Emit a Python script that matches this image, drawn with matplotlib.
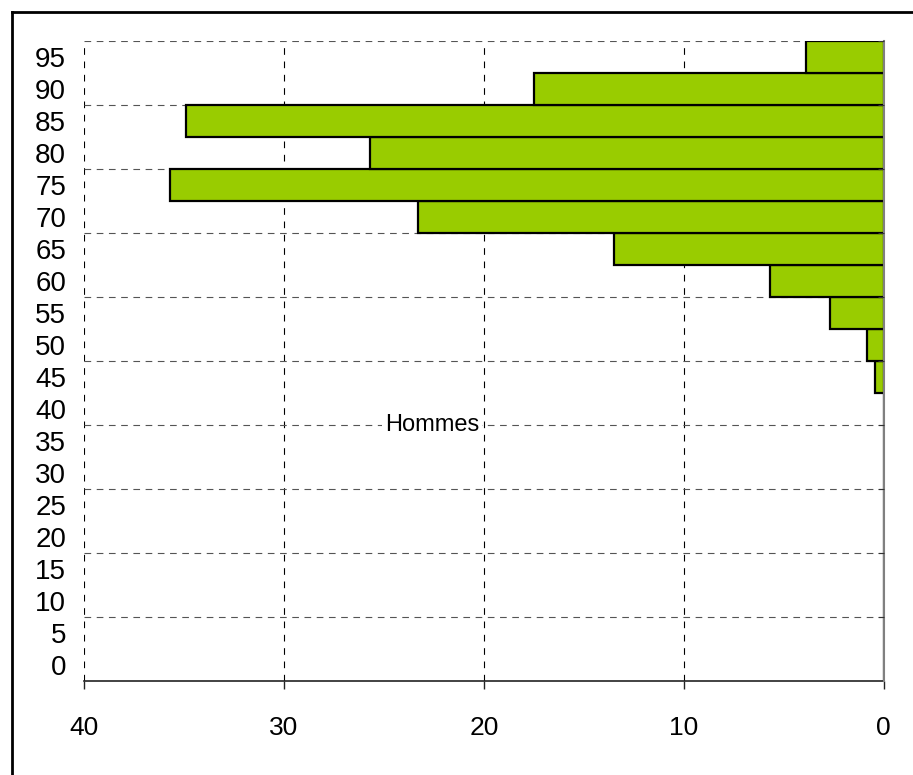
import matplotlib
matplotlib.use("Agg")
import matplotlib.pyplot as plt
from matplotlib.lines import Line2D

# age groups (bottom to top) and values
ages = [0, 5, 10, 15, 20, 25, 30, 35, 40, 45, 50, 55, 60, 65, 70, 75, 80, 85, 90, 95]
hommes = [0, 0, 0, 0, 0, 0, 0, 0, 0, 0.45, 0.85, 2.7, 5.7, 13.5, 23.3, 35.7, 25.7, 34.9, 17.5, 3.9]
x_ticks = [40, 30, 20, 10, 0]

plt.rcParams['font.family'] = ['Liberation Sans', 'DejaVu Sans']

fig = plt.figure(figsize=(9.13, 7.75), dpi=100)
ax = fig.add_axes([84.3 / 913, 94 / 775, 799.2 / 913, 640 / 775])

pos = list(range(len(ages)))
ax.barh(pos, hommes, height=1.0, color='#99cc00', edgecolor='black',
        linewidth=1.6, zorder=3)

ax.set_xlim(40, 0)
ax.set_ylim(-0.5, len(ages) - 0.5)

# dashed grid: vertical every 10, horizontal every second category boundary
for xv in [10, 20, 30, 40]:
    ax.axvline(xv, color='black', linestyle=(0, (6, 6)), linewidth=0.8, zorder=1)
grid_y = [b + 0.5 for b in range(1, len(ages), 2)]
for yv in grid_y:
    ax.axhline(yv, color='#555555', linestyle=(0, (6, 5)), linewidth=0.8, zorder=1)

ax.set_yticks(pos)
ax.set_yticklabels([str(a) for a in ages], fontsize=20)
ax.tick_params(axis='y', length=0, pad=13, left=True)

ax.set_xticks(x_ticks)
ax.set_xticklabels([str(t) for t in x_ticks], fontsize=19)
ax.tick_params(axis='x', direction='out', length=6, width=1, color='#222222', pad=19)

for s in ['left', 'top']:
    ax.spines[s].set_visible(False)
ax.spines['bottom'].set_color('#222222')
ax.spines['bottom'].set_linewidth(1.2)
ax.spines['right'].set_color('#808080')
ax.spines['right'].set_linewidth(1.5)
ax.spines['right'].set_zorder(4)

# small tick marks on the right axis at the grid lines
ax2 = ax.twinx()
ax2.set_ylim(ax.get_ylim())
ax2.set_yticks(grid_y)
ax2.set_yticklabels([])
ax2.tick_params(axis='y', direction='in', length=4, color='#333333')
for s in ['left', 'top', 'bottom', 'right']:
    ax2.spines[s].set_visible(False)

ax.text(22.6, 7.5, 'Hommes', fontsize=17, ha='center', va='center',
        bbox=dict(facecolor='white', edgecolor='none', pad=2), zorder=2)

# frame lines on the left and top of the figure
fig.add_artist(Line2D([11.5 / 913, 11.5 / 913], [0, 1 - 12 / 775], color='black',
                      linewidth=2, transform=fig.transFigure))
fig.add_artist(Line2D([11.5 / 913, 1], [1 - 12 / 775, 1 - 12 / 775], color='black',
                      linewidth=2, transform=fig.transFigure))

fig.savefig('out.png', dpi=100)
